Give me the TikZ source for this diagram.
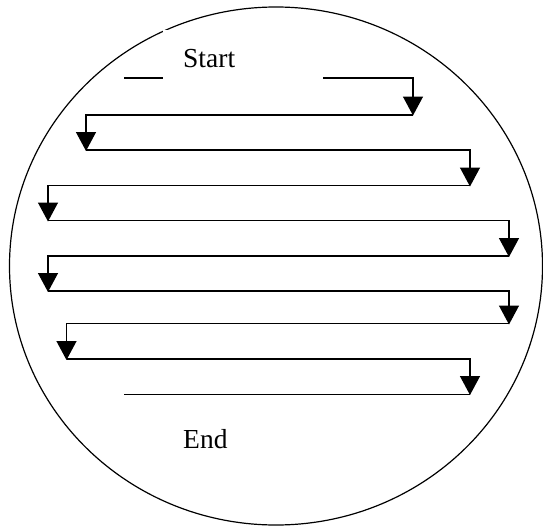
\documentclass[tikz,border=0pt]{standalone}
\usepackage{fontspec}
\setmainfont{Liberation Serif}
\usetikzlibrary{arrows.meta}
\tikzset{
  rim/.style={draw=black, line width=1.2pt},
  flow/.style={draw=black, line width=1.4pt},
  flowarrow/.style={flow, -{Triangle[width=20pt,length=19pt]}},
  label/.style={anchor=base west, inner sep=0pt, font=\fontsize{27.5}{30}\selectfont},
  mask/.style={fill=white, draw=none, inner sep=0pt, anchor=north west}
}
\begin{document}
\begin{tikzpicture}[x=1pt,y=-1pt]
\useasboundingbox (0,0) rectangle (543,527);
\fill[white] (0,0) rectangle (543,527);
% outer circle
\draw[rim] (276,266) ellipse [x radius=266.5pt, y radius=259pt];
% corners
\coordinate (s0) at (124,78);
\coordinate (c0) at (413,78);   \coordinate (e1) at (413,115.5);
\coordinate (c1) at (86,115);   \coordinate (e2) at (86,151);
\coordinate (c2) at (470,150);  \coordinate (e3) at (470,186.5);
\coordinate (c3) at (48,185.5); \coordinate (e4) at (48,221.5);
\coordinate (c4) at (509,220.5);\coordinate (e5) at (509,257);
\coordinate (c5) at (48,256);   \coordinate (e6) at (48,292);
\coordinate (c6) at (509,291);  \coordinate (e7) at (509,324.5);
\coordinate (c7) at (66.5,323.5);\coordinate (e8) at (66.5,360);
\coordinate (c8) at (470,359);  \coordinate (e9) at (470,395);
\coordinate (f9) at (124,394.5);
% serpentine path
\draw[flowarrow] (s0) -- (c0) -- (e1);
\draw[flowarrow] (e1 |- c1) -- (c1) -- (e2);
\draw[flowarrow] (e2 |- c2) -- (c2) -- (e3);
\draw[flowarrow] (e3 |- c3) -- (c3) -- (e4);
\draw[flowarrow] (e4 |- c4) -- (c4) -- (e5);
\draw[flowarrow] (e5 |- c5) -- (c5) -- (e6);
\draw[flowarrow] (e6 |- c6) -- (c6) -- (e7);
\draw[flowarrow] (e7 |- c7) -- (c7) -- (e8);
\draw[flowarrow] (e8 |- c8) -- (c8) -- (e9);
\draw[flow] (e9 |- f9) -- (f9);
% start text box (covers the middle of the first line and a bit of the rim)
\node[mask, minimum width=160pt, minimum height=60pt] (startbox) at (163,29.5) {};
\node[label] (start) at (183,67) {Start};
\node[label] (end) at (183,448) {End};
\end{tikzpicture}
\end{document}
